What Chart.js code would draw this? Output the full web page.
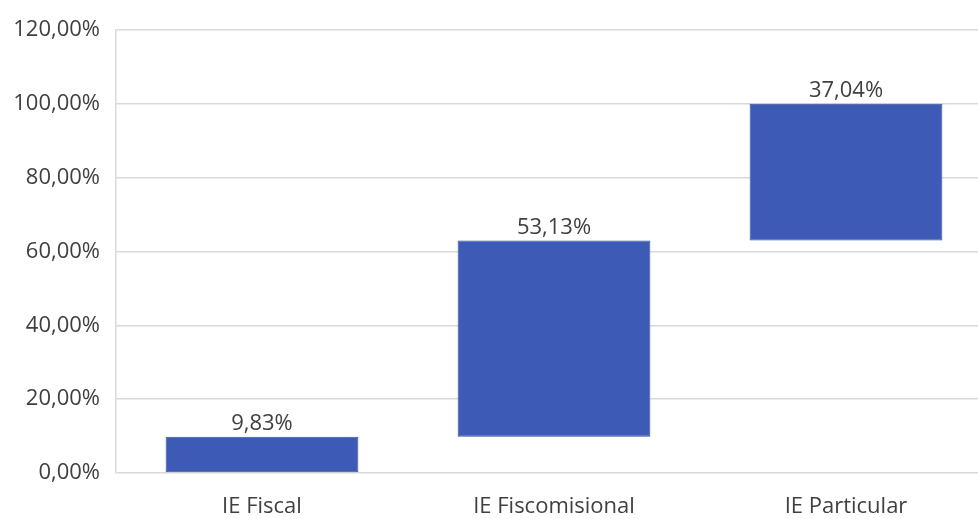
<!DOCTYPE html>
<html>
<head>
<meta charset="utf-8">
<script src="https://cdn.jsdelivr.net/npm/chart.js@4.4.1/dist/chart.umd.min.js"></script>
<style>
  html, body { margin: 0; padding: 0; background: #fff; overflow: hidden; }
  #wrap { width: 992px; height: 519px; }
</style>
</head>
<body>
<div id="wrap"><canvas id="chart" width="992" height="519"></canvas></div>
<script>
// tipos de institución y su participación (%)
const categories = ['IE Fiscal', 'IE Fiscomisional', 'IE Particular'];
const shares = [9.83, 53.13, 37.04];
const yTicks = [0, 20, 40, 60, 80, 100, 120];

// tramos flotantes de la cascada: cada barra empieza donde termina la anterior
let acc = 0;
const ranges = shares.map(v => {
  const r = [acc, acc + v];
  acc += v;
  return r;
});

const fmt = v => v.toFixed(2).replace('.', ',') + '%';
const FONT = "'Open Sans', 'Liberation Sans', sans-serif";

const valueLabels = {
  id: 'valueLabels',
  afterDatasetsDraw(chart) {
    const ctx = chart.ctx;
    const meta = chart.getDatasetMeta(0);
    ctx.save();
    ctx.font = '22px ' + FONT;
    ctx.fillStyle = '#404040';
    ctx.textAlign = 'center';
    ctx.textBaseline = 'alphabetic';
    meta.data.forEach((bar, i) => {
      ctx.fillText(fmt(shares[i]), bar.x, Math.min(bar.y, bar.base) - 7);
    });
    ctx.restore();
  }
};

new Chart(document.getElementById('chart'), {
  type: 'bar',
  data: {
    labels: categories,
    datasets: [{
      data: ranges,
      backgroundColor: '#3d5ab7',
      borderColor: '#35509f',
      borderWidth: 1,
      borderSkipped: false,
      barPercentage: 0.66,
      categoryPercentage: 1
    }]
  },
  options: {
    responsive: false,
    animation: false,
    layout: { padding: { top: 30, right: 0, left: 0, bottom: 0 } },
    plugins: {
      legend: { display: false },
      tooltip: { enabled: false }
    },
    scales: {
      x: {
        grid: { display: false, drawTicks: false },
        border: { display: false },
        afterFit: s => { s.height = 46; },
        ticks: {
          padding: 21,
          color: '#404040',
          font: { family: FONT, size: 22 }
        }
      },
      y: {
        min: 0,
        max: 120,
        afterFit: s => { s.width = 116; },
        afterBuildTicks: s => { s.ticks = yTicks.map(v => ({ value: v })); },
        grid: { color: '#d9d9d9', lineWidth: 1.5, drawTicks: false },
        border: { display: true, color: '#d9d9d9', width: 1.5 },
        ticks: {
          padding: 16,
          color: '#404040',
          font: { family: FONT, size: 22 },
          callback: v => fmt(v)
        }
      }
    }
  },
  plugins: [valueLabels]
});
</script>
</body>
</html>
